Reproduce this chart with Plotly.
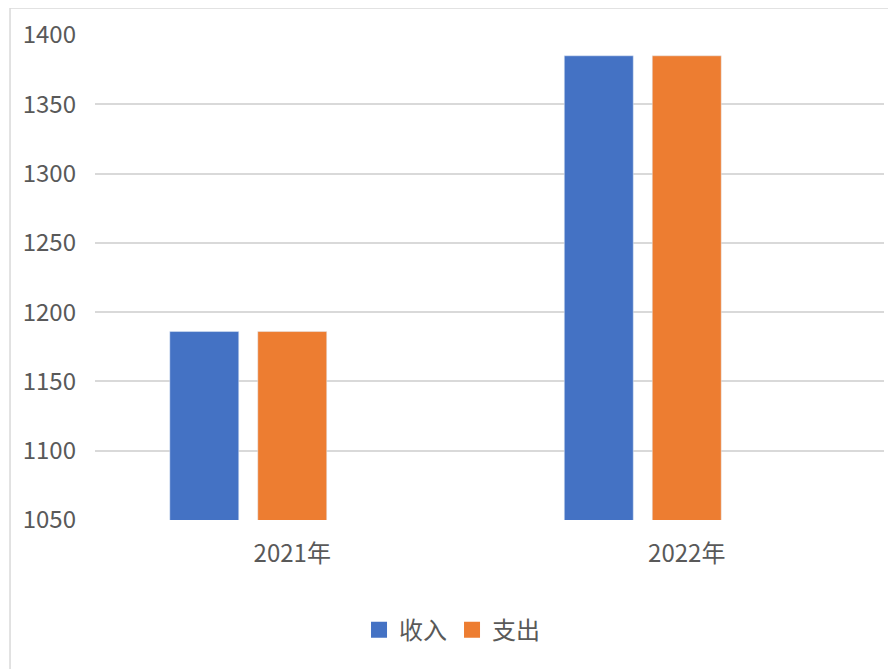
import plotly.graph_objects as go

# data
years = ["2021年", "2022年"]
income = [1186, 1385]    # 收入
expense = [1186, 1385]   # 支出
blank = [None, None]     # empty third series (keeps Excel-style group spacing)

y_ticks = [1050, 1100, 1150, 1200, 1250, 1300, 1350, 1400]

blue = "#4472C4"
orange = "#ED7D31"
font_family = "Noto Sans CJK SC, Liberation Sans, sans-serif"

fig = go.Figure()
fig.add_trace(go.Bar(x=years, y=income, name="收入", marker_color=blue, showlegend=False))
fig.add_trace(go.Bar(x=years, y=expense, name="支出", marker_color=orange, showlegend=False))
fig.add_trace(go.Bar(x=years, y=blank, name="", showlegend=False, hoverinfo="skip"))

# legend proxies so the legend squares come out bigger
for name, col in [("收入", blue), ("支出", orange)]:
    fig.add_trace(go.Scatter(
        x=[None], y=[None], mode="markers", name=name,
        marker=dict(symbol="square", size=16, color=col),
    ))

# page body has an 8px margin, so the figure is a bit smaller than the window
fig.update_layout(
    width=888,
    height=661,
    barmode="group",
    bargap=0.331,
    bargroupgap=0.216,
    plot_bgcolor="white",
    paper_bgcolor="white",
    margin=dict(l=87, r=12, t=27, b=149),
    font=dict(family=font_family, size=24, color="#595959"),
    legend=dict(
        orientation="h",
        x=0.4525, xanchor="center",   # centred on the whole chart, not the plot area
        y=-0.227, yanchor="middle",
        font=dict(size=24, color="#595959"),
        itemwidth=30,
    ),
    xaxis=dict(
        showgrid=False,
        showline=False,
        ticks="",
        ticklabelstandoff=17,
        automargin=False,
    ),
    yaxis=dict(
        range=[1050, 1400],
        tickvals=y_ticks,
        gridcolor="#d9d9d9",
        gridwidth=1.5,
        zeroline=False,
        showline=False,
        ticks="",
        ticklabelstandoff=18,
        automargin=False,
    ),
    # light chart-area border (runs off the right and bottom edges)
    shapes=[dict(
        type="rect", xref="paper", yref="paper",
        x0=-0.1077, x1=1.1, y0=-0.4, y1=1.0557,
        line=dict(color="#d9d9d9", width=1.5),
        fillcolor="rgba(0,0,0,0)",
    )],
)

fig.write_html("out.html")
